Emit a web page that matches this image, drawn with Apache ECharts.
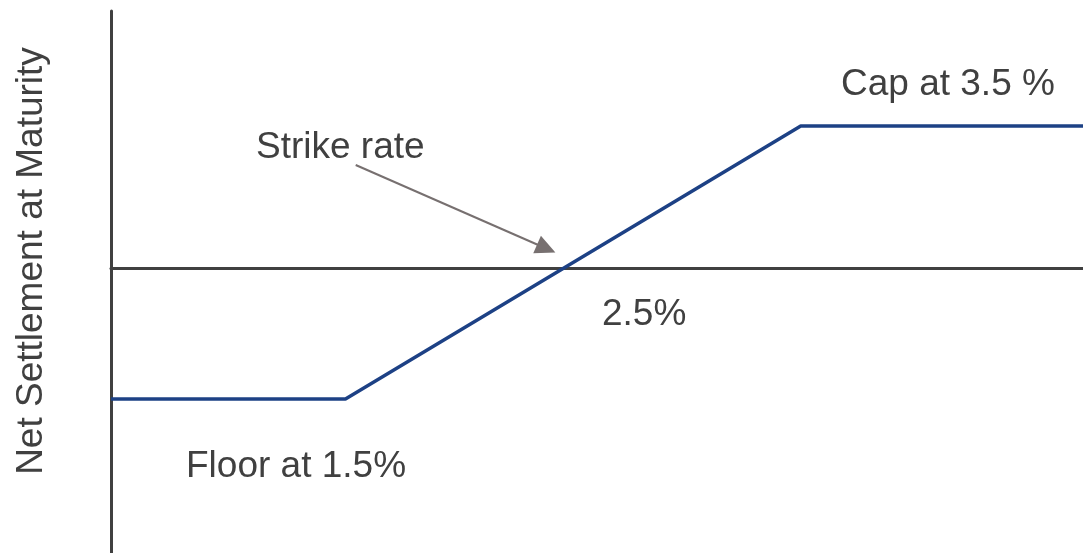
<!DOCTYPE html>
<html>
<head>
<meta charset="utf-8">
<script src="https://cdn.jsdelivr.net/npm/echarts@6/dist/echarts.min.js"></script>
<style>
  html, body { margin: 0; padding: 0; background: #ffffff; }
  #chart { width: 1083px; height: 553px; }
</style>
</head>
<body>
<div id="chart"></div>
<script>
// Collar payoff: net settlement vs. reference rate (%)
const rateRange = [0.47, 4.74];          // x extent, reference rate in %
const floorRate = 1.5;
const capRate = 3.5;
const floorValue = -1.31;                 // settlement below the floor
const capValue = 1.42;                    // settlement above the cap
const settlementRange = [-2.85, 2.57];    // y extent

const payoff = [
  [rateRange[0], floorValue],
  [floorRate, floorValue],
  [capRate, capValue],
  [rateRange[1], capValue]
];

// annotation arrow pointing at the strike
const strikeArrow = [[1.545, 1.03], [2.382, 0.195]];

const labels = [
  { text: 'Cap at 3.5 %', x: 841, y: 85 },
  { text: 'Strike rate', x: 256, y: 148 },
  { text: '2.5%', x: 602, y: 315 },
  { text: 'Floor at 1.5%', x: 186, y: 467 }
];
const yTitle = 'Net Settlement at Maturity';

const textColor = '#404040';
const font = '37px "Liberation Sans", Arial, sans-serif';

const chart = echarts.init(document.getElementById('chart'));
chart.setOption({
  backgroundColor: '#ffffff',
  animation: false,
  grid: { left: 111, right: 0, top: 11, bottom: 0 },
  xAxis: {
    type: 'value',
    min: rateRange[0],
    max: rateRange[1],
    axisLine: { show: true, onZero: true, lineStyle: { color: '#404040', width: 3 } },
    axisTick: { show: false },
    axisLabel: { show: false },
    splitLine: { show: false }
  },
  yAxis: {
    type: 'value',
    min: settlementRange[0],
    max: settlementRange[1],
    axisLine: { show: true, onZero: false, lineStyle: { color: '#404040', width: 3 } },
    axisTick: { show: false },
    axisLabel: { show: false },
    splitLine: { show: false }
  },
  series: [{
    type: 'line',
    data: payoff,
    symbol: 'none',
    lineStyle: { color: '#1d4185', width: 3.5 },
    z: 3,
    markLine: {
      silent: true,
      symbol: ['none', 'triangle'],
      symbolSize: [19, 20],
      label: { show: false },
      lineStyle: { color: '#777070', width: 2, type: 'solid' },
      data: [[
        { coord: strikeArrow[0] },
        { coord: strikeArrow[1] }
      ]]
    }
  }],
  graphic: labels.map(l => ({
    type: 'text',
    x: l.x,
    y: l.y,
    style: {
      text: l.text,
      font: font,
      fill: textColor,
      textAlign: 'left',
      textVerticalAlign: 'middle'
    },
    z: 10
  })).concat([{
    type: 'text',
    x: 32,
    y: 261,
    rotation: Math.PI / 2,
    style: {
      text: yTitle,
      font: font,
      fill: textColor,
      textAlign: 'center',
      textVerticalAlign: 'middle'
    },
    z: 10
  }])
});
</script>
</body>
</html>
